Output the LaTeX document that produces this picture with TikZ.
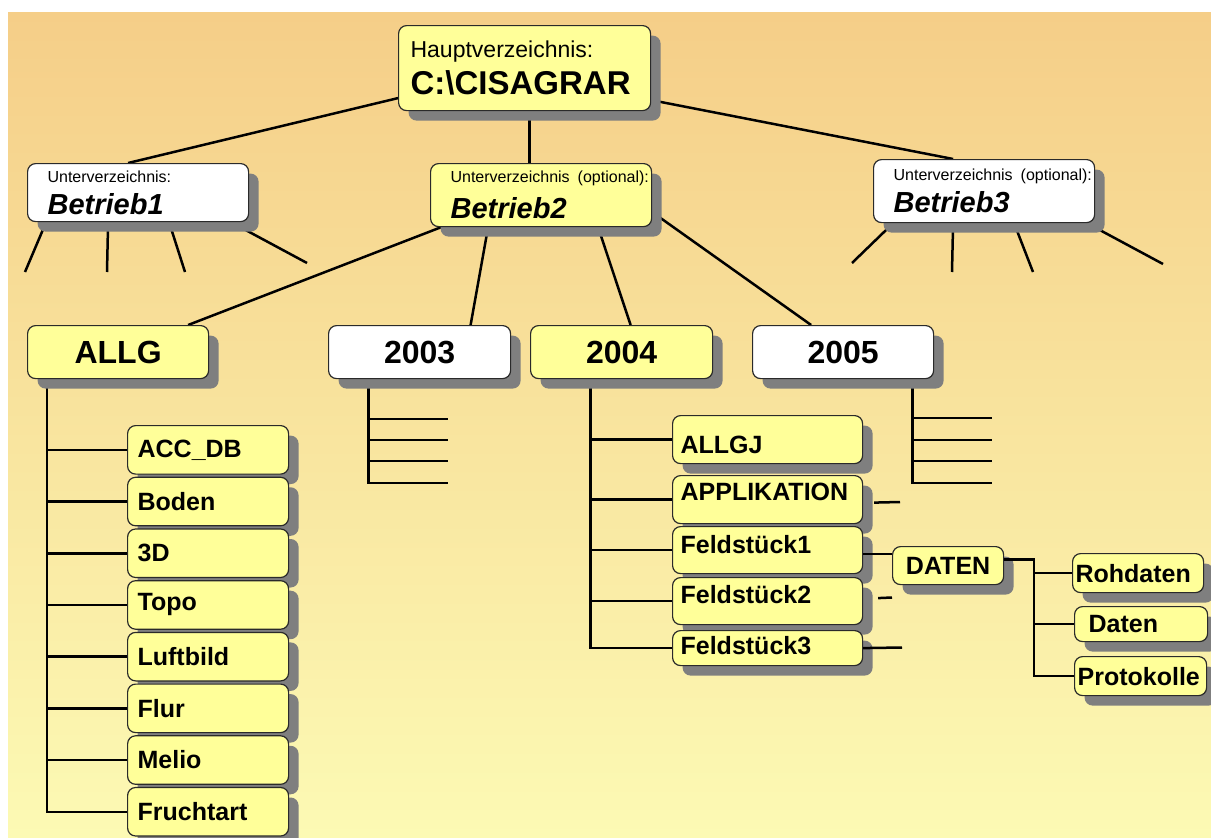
\documentclass[tikz,border=0pt]{standalone}
\usepackage{fontspec}
\setmainfont{Liberation Sans}
\usepackage{tikz}
\usetikzlibrary{positioning,shadows,calc}
\definecolor{bgtop}{HTML}{F5CE88}
\definecolor{bgbot}{HTML}{FCFAB4}
\definecolor{boxyel}{HTML}{FFFF99}
\definecolor{shadowc}{HTML}{7F7F7F}
\definecolor{edgec}{HTML}{2A2A2A}
\newcommand{\setfs}[2]{\fontsize{#1}{#2}\selectfont}
\pgfdeclarelayer{back}
\pgfsetlayers{back,main}

\begin{document}
\begin{tikzpicture}[x=1pt,y=-1pt,
  box/.style={draw=edgec,line width=1.2pt,rounded corners=8pt,anchor=north west,inner sep=0pt,
    drop shadow={shadow xshift=10pt,shadow yshift=-10pt,fill=shadowc,opacity=1}},
  yel/.style={box,fill=boxyel},
  wht/.style={box,fill=white},
  sub/.style={minimum width=221pt,text width=181pt,align=left,inner xsep=20pt},
  year/.style={font=\setfs{32}{32}\bfseries,minimum width=182pt,minimum height=53pt},
  dirA/.style={yel,font=\setfs{25}{25}\bfseries,minimum width=161pt,minimum height=48.5pt,
    text width=141pt,align=left,inner xsep=10pt},
  dirB/.style={yel,font=\setfs{25}{25}\bfseries,minimum width=190pt,
    text width=174pt,align=left,inner xsep=8pt},
  dirC/.style={yel,font=\setfs{25}{25}\bfseries,align=left,inner xsep=3pt},
  conn/.style={line width=2.5pt,black},
]
\useasboundingbox (0,0) rectangle (1211,838);

% root and the three firms
\node[yel,minimum width=252pt,minimum height=85pt,text width=228pt,align=left,
      inner xsep=12pt,font=\setfs{33}{37}] (main) at (398,25)
  {{\setfs{23}{23}Hauptverzeichnis:}\\\textbf{C:\textbackslash CISAGRAR}};
\node[wht,sub,minimum height=58pt,font=\setfs{29}{32}] (b1) at (27,163)
  {{\setfs{16}{19}Unterverzeichnis:}\\\textbf{\textit{Betrieb1}}};
\node[yel,sub,minimum height=63pt,font=\setfs{29}{36}] (b2) at (430,163)
  {{\setfs{16}{19}\mbox{Unterverzeichnis\hspace{8pt}(optional):}}\\\textbf{\textit{Betrieb2}}};
\node[wht,sub,minimum height=63pt,font=\setfs{29}{32}] (b3) at (873,159)
  {{\setfs{16}{19}\mbox{Unterverzeichnis\hspace{8pt}(optional):}}\\\textbf{\textit{Betrieb3}}};

% second level
\node[yel,year,minimum width=181pt] (allg) at (27,325) {ALLG};
\node[wht,year] (y03) at (328,325) {2003};
\node[yel,year] (y04) at (530,325) {2004};
\node[wht,year,minimum width=181pt] (y05) at (752,325) {2005};

% ALLG column
\node[dirA] (accdb) at (127,425) {ACC\_DB};
\node[dirA,below=2pt of accdb] (boden) {Boden};
\node[dirA,below=2pt of boden] (dreid) {3D};
\node[dirA,below=2pt of dreid] (topo) {Topo};
\node[dirA,below=2pt of topo] (luft) {Luftbild};
\node[dirA,below=2pt of luft] (flur) {Flur};
\node[dirA,below=2pt of flur] (melio) {Melio};
\node[dirA,below=2pt of melio] (frucht) {Fruchtart};

% 2004 column
\node[dirB,minimum height=48pt,text height=27pt,text depth=0pt] (allgj) at (672,415) {ALLGJ};
\node[dirB,minimum height=48pt,text height=18pt,text depth=16pt] (appl) at (672,475) {APPLIKATION};
\node[dirB,minimum height=47pt,text height=18pt,text depth=11pt] (fs1) at (672,526) {Feldstück1};
\node[dirB,minimum height=47pt,text height=18pt,text depth=13pt] (fs2) at (672,577) {Feldstück2};
\node[dirB,minimum height=35pt,text height=18pt,text depth=5pt] (fs3) at (672,630) {Feldstück3};

% DATEN and below
\node[yel,font=\setfs{25}{25}\bfseries,minimum width=111pt,minimum height=38pt] (daten) at (892,546) {DATEN};
\node[dirC,minimum width=131pt,text width=125pt,minimum height=39pt] (roh) at (1072,553) {Rohdaten};
\node[dirC,minimum width=133pt,text width=105pt,inner xsep=14pt,minimum height=35pt] (dat) at (1074,606) {Daten};
\node[dirC,minimum width=132pt,text width=126pt,minimum height=39pt] (prot) at (1074,656) {Protokolle};

% free ends
\coordinate (b1e1) at (25,272);
\coordinate (b1e2) at (107,272);
\coordinate (b1e3) at (185,272);
\coordinate (b1e4) at (307,263);
\coordinate (b3e1) at (852,263);
\coordinate (b3e2) at (952,272);
\coordinate (b3e3) at (1033,272);
\coordinate (b3e4) at (1163,264);
\coordinate (e03a) at (448,419);
\coordinate (e03b) at (448,440);
\coordinate (e03c) at (448,461);
\coordinate (e03d) at (448,483);
\coordinate (e05a) at (992,418);
\coordinate (e05b) at (992,440);
\coordinate (e05c) at (992,461);
\coordinate (e05d) at (992,483);
\coordinate (appe) at (900,502);
\coordinate (fs2e) at (892,597.5);
\coordinate (fs3e) at (902,647.5);

\begin{pgfonlayer}{back}
\fill[white] (0,0) rectangle (1211,838);
\shade[top color=bgtop,bottom color=bgbot] (8,12) rectangle (1211,838);

% root to firms
\draw[conn] ([yshift=-30pt]main.west) -- ([xshift=-10pt]b1.north);
\coordinate (m2) at ([xshift=5pt]main.south);
\draw[conn] (m2) -- (m2 |- b2.north);
\draw[conn] ([yshift=-32pt]main.east) -- ([xshift=-31pt]b3.north);

% open branches of Betrieb1 and Betrieb3
\draw[conn] ([xshift=-92pt]b1.south) -- (b1e1);
\draw[conn] ([xshift=-30pt]b1.south) -- (b1e2);
\draw[conn] ([xshift=31pt]b1.south) -- (b1e3);
\draw[conn] ([xshift=93pt]b1.south) -- (b1e4);
\draw[conn] ([xshift=-91pt]b3.south) -- (b3e1);
\draw[conn] ([xshift=-31pt]b3.south) -- (b3e2);
\draw[conn] ([xshift=30pt]b3.south) -- (b3e3);
\draw[conn] ([xshift=103pt]b3.south) -- (b3e4);

% Betrieb2 to its folders
\draw[conn] ([xshift=-100pt]b2.south) -- ([xshift=70pt]allg.north);
\draw[conn] ([xshift=-53pt]b2.south) -- ([xshift=51pt]y03.north);
\draw[conn] ([xshift=57pt]b2.south) -- ([xshift=9pt]y04.north);
\draw[conn] ([yshift=-17pt]b2.east) -- ([xshift=-32pt]y05.north);

% ALLG tree
\coordinate (ta) at ([xshift=-71pt]allg.south);
\draw[conn] (ta) |- (frucht.west);
\draw[conn] (ta |- accdb.west) -- (accdb.west);
\draw[conn] (ta |- boden.west) -- (boden.west);
\draw[conn] (ta |- dreid.west) -- (dreid.west);
\draw[conn] (ta |- topo.west) -- (topo.west);
\draw[conn] (ta |- luft.west) -- (luft.west);
\draw[conn] (ta |- flur.west) -- (flur.west);
\draw[conn] (ta |- melio.west) -- (melio.west);

% 2003 and 2005
\coordinate (t03) at ([xshift=-51pt]y03.south);
\draw[conn] (t03) |- (e03d);
\draw[conn] (t03 |- e03a) -- (e03a);
\draw[conn] (t03 |- e03b) -- (e03b);
\draw[conn] (t03 |- e03c) -- (e03c);
\coordinate (t05) at ([xshift=69.5pt]y05.south);
\draw[conn] (t05) |- (e05d);
\draw[conn] (t05 |- e05a) -- (e05a);
\draw[conn] (t05 |- e05b) -- (e05b);
\draw[conn] (t05 |- e05c) -- (e05c);

% 2004 tree
\coordinate (t04) at ([xshift=-31pt]y04.south);
\draw[conn] (t04) |- (fs3.west);
\draw[conn] (t04 |- allgj.west) -- (allgj.west);
\draw[conn] (t04 |- appl.west) -- (appl.west);
\draw[conn] (t04 |- fs1.west) -- (fs1.west);
\draw[conn] (t04 |- fs2.west) -- (fs2.west);
\draw[conn] ([xshift=11pt,yshift=-3pt]appl.east) -- (appe);
\draw[conn] ([xshift=15pt,yshift=3pt]fs2.east) -- (fs2e);
\end{pgfonlayer}

% these run over the shadows
\coordinate (f1e) at ([yshift=-4pt]fs1.east);
\draw[conn] (f1e) -- (f1e -| daten.west);
\draw[conn] (fs3.east) -- (fs3e);
\coordinate (td) at ([xshift=30pt,yshift=6pt]daten.east);
\draw[conn] ([yshift=6pt]daten.east) -- (td) |- (prot.west);
\draw[conn] (td |- roh.west) -- (roh.west);
\draw[conn] (td |- dat.west) -- (dat.west);
\end{tikzpicture}
\end{document}
